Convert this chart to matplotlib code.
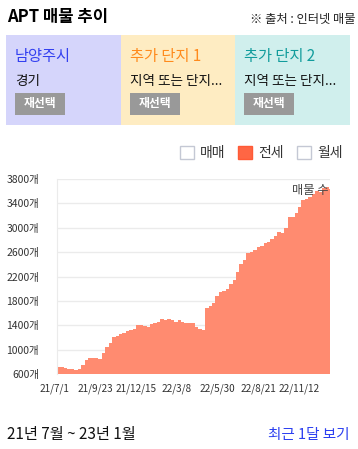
import datetime as dt

import matplotlib
matplotlib.use("Agg")
import matplotlib.pyplot as plt
from matplotlib.patches import Rectangle
from matplotlib.transforms import ScaledTranslation

plt.rcParams['font.family'] = ['Noto Sans CJK KR', 'DejaVu Sans']

# weekly listing counts (전세), starting 2021-07-01
start = dt.date(2021, 7, 1)
counts = [720, 715, 700, 690, 675, 665, 680, 740, 830, 860,
          870, 860, 840, 950, 1045, 1110, 1200, 1220, 1250, 1270,
          1310, 1320, 1340, 1405, 1400, 1380, 1375, 1420, 1440, 1450,
          1495, 1480, 1505, 1480, 1460, 1490, 1450, 1440, 1440, 1430,
          1370, 1345, 1330, 1690, 1715, 1760, 1880, 1945, 1970, 1990,
          2070, 2140, 2270, 2400, 2470, 2580, 2610, 2630, 2680, 2700,
          2750, 2760, 2810, 2870, 2930, 2910, 2990, 3170, 3180, 3240,
          3340, 3460, 3480, 3510, 3550, 3600, 3590, 3660, 3670, 3640]
weeks = [start + dt.timedelta(days=7 * i) for i in range(len(counts))]

y_ticks = [600, 1000, 1400, 1800, 2200, 2600, 3000, 3400, 3800]
x_ticks = [dt.date(2021, 7, 1), dt.date(2021, 9, 23), dt.date(2021, 12, 15),
           dt.date(2022, 3, 8), dt.date(2022, 5, 30), dt.date(2022, 8, 21),
           dt.date(2022, 11, 12)]

cards = [("남양주시", "경기", "#d5d5fb", "#3340f0"),
         ("추가 단지 1", "지역 또는 단지...", "#feecc2", "#ff8a1c"),
         ("추가 단지 2", "지역 또는 단지...", "#d0efed", "#119c9c")]
legend_items = [("매매", False), ("전세", True), ("월세", False)]

W, H = 358, 449
fig = plt.figure(figsize=(W / 100, H / 100), dpi=100)


def fx(x):
    return x / W


def fy(y):
    return 1 - y / H


def box(x0, y0, x1, y1, **kw):
    fig.patches.append(Rectangle((fx(x0), fy(y1)), fx(x1) - fx(x0), fy(y0) - fy(y1),
                                 transform=fig.transFigure, **kw))


# header
fig.text(fx(7), fy(17), "APT 매물 추이", fontsize=12, fontweight="bold",
         va="center", ha="left")
fig.text(fx(355), fy(19), "※ 출처 : 인터넷 매물", fontsize=8.8, va="center",
         ha="right", color="#222222")

# selection cards
card_x = [6, 121, 235]
for (name, region, bg, fg), x0 in zip(cards, card_x):
    box(x0, 35, x0 + 115, 125, facecolor=bg, edgecolor="none")
    fig.text(fx(x0 + 9), fy(57), name, fontsize=11, color=fg, va="center",
             fontweight="medium")
    fig.text(fx(x0 + 9), fy(81), region, fontsize=9.8, color="#111111", va="center")
    box(x0 + 9, 93, x0 + 59, 115, facecolor="#999999", edgecolor="none")
    fig.text(fx(x0 + 34), fy(104), "재선택", fontsize=8.5, color="white",
             fontweight="bold", ha="center", va="center")

# legend checkboxes
legend_x = [180, 238, 297]
for (label, on), x0 in zip(legend_items, legend_x):
    if on:
        box(x0, 146, x0 + 14, 159, facecolor="#ff6644", edgecolor="#ff5a36", lw=1)
    else:
        box(x0, 146, x0 + 14, 159, facecolor="white", edgecolor="#c4c8d4", lw=1)
    fig.text(fx(x0 + 20), fy(153), label, fontsize=10, color="#333333",
             va="center", ha="left")

# chart
ax = fig.add_axes([fx(57), fy(374), fx(330) - fx(57), fy(179) - fy(374)])
ax.bar(weeks, counts, width=7, align="edge", color="#ff8b70", linewidth=0)
ax.set_ylim(600, 3800)
ax.set_xlim(start, start + dt.timedelta(days=555))
ax.set_yticks(y_ticks)
ax.set_yticklabels([f"{v}개" for v in y_ticks], fontsize=7.5, color="#333333")
ax.set_xticks(x_ticks)
ax.set_xticklabels([f"{d.year % 100}/{d.month}/{d.day}" for d in x_ticks],
                   fontsize=7.2, color="#333333")
ax.tick_params(length=0, pad=7)
ax.tick_params(axis="y", pad=13)
for lab in ax.get_xticklabels():
    lab.set_transform(lab.get_transform() + ScaledTranslation(-0.03, 0, fig.dpi_scale_trans))
ax.grid(axis="y", color="#ebebeb", lw=1)
ax.set_axisbelow(True)
for side in ["right", "bottom", "top"]:
    ax.spines[side].set_visible(False)
ax.spines["left"].set_color("#ebebeb")
ax.text(0.995, 0.94, "매물 수", transform=ax.transAxes, ha="right", va="center",
        fontsize=8.8, color="#444444")

# footer
fig.text(fx(7), fy(435), "21년 7월 ~ 23년 1월", fontsize=11, va="center",
         fontweight="medium", color="#111111")
fig.text(fx(349), fy(435), "최근 1달 보기", fontsize=10.5, va="center", ha="right",
         color="#2b3ff0", fontweight="medium")

fig.savefig("out.png", dpi=100)
